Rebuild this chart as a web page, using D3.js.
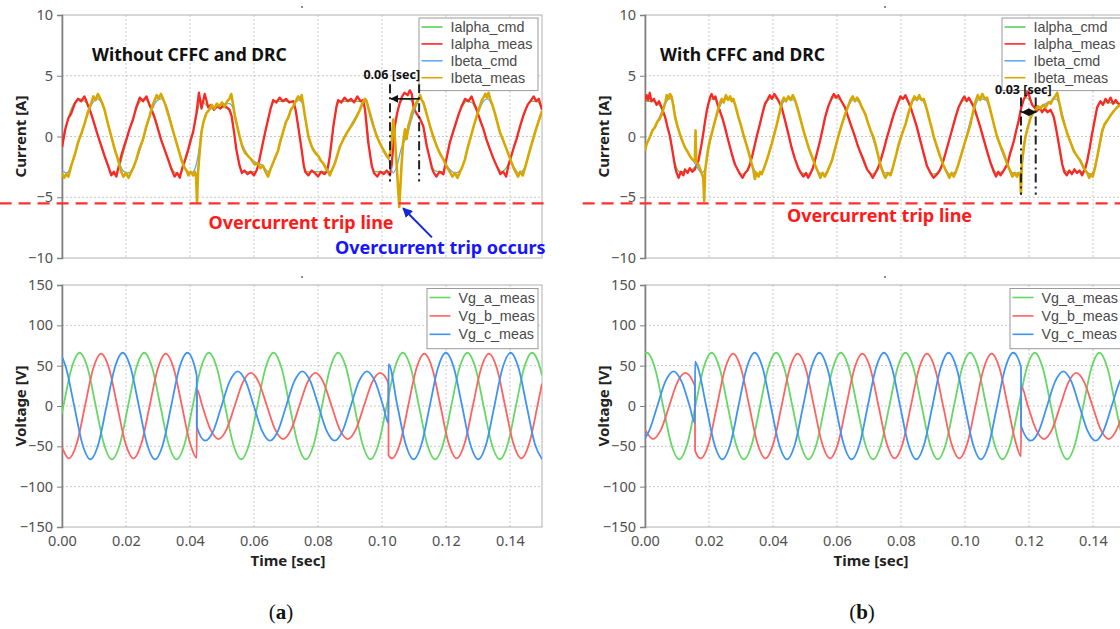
<!DOCTYPE html>
<html><head><meta charset="utf-8">
<script src="https://cdn.jsdelivr.net/npm/d3@7"></script>
<style>
body{margin:0;background:#fff;}
svg{display:block;font-family:"Noto Sans","Open Sans",sans-serif;}
</style></head><body>
<svg id="chart" width="1120" height="629"></svg>
<script>
// ---------------- data (time in ms, value in A or V) ----------------
const timeTicks = [0, 0.02, 0.04, 0.06, 0.08, 0.10, 0.12, 0.14];
const currentTicks = [-10, -5, 0, 5, 10];
const voltageTicks = [-150, -100, -50, 0, 50, 100, 150];
const currentNames = ["Ialpha_cmd", "Ialpha_meas", "Ibeta_cmd", "Ibeta_meas"];
const voltageNames = ["Vg_a_meas", "Vg_b_meas", "Vg_c_meas"];
const panelTitles = ["Without CFFC and DRC", "With CFFC and DRC"];
const panelLetters = ["a", "b"];
const tripLevel = -5.5;
const tripSpan = [-19.5, 152.5];
const spanLabels = ["0.06 [sec]", "0.03 [sec]"];
const aSpan = [102.5, 111.6];
const bSpan = [117.5, 122.1];
const tripArrowA = [[115.6, -8.3], [106.6, -5.9]];

const aIalphaCmd = [[0,-1.0],[2,1.6],[3.5,2.6],[5.5,3.1],[7.5,2.8],[9.3,1.8],[11.3,0],[13.3,-1.7],[15,-2.8],[16.5,-3.1],[18,-2.4],[20.1,-0.4],[22.2,1.5],[24,2.7],[25.5,3.1],[27.2,2.7],[29,1.6],[31,-0.2],[33,-1.8],[35,-2.9],[36.5,-3.1],[38,-2.4],[40,-0.7],[41,0.4],[42.3,2.0],[43.3,3.0],[44.3,2.8],[45.5,2.5],[52.3,2.3],[53,1.7],[54.5,-1.1],[55.5,-2.4],[56.5,-2.9],[60.5,-2.9],[61.3,-2.4],[62.8,-0.5],[64.4,1.4],[65.5,2.6],[66.5,2.9],[72.3,2.9],[73,2.2],[74.9,-1.1],[76,-2.8],[77,-2.9],[82.7,-2.9],[83.7,-1.6],[85.8,2.4],[86.8,2.9],[94,2.9],[94.7,2.2],[96.8,-2.4],[97.8,-2.9],[102.3,-2.9],[103,-2.4],[104,0.8],[105.6,2.7],[107,3.1],[109,3.0],[110.3,2.2],[112.9,0.8],[115,-1.9],[116.5,-2.8],[119,-2.9],[121.2,-0.5],[124.9,2.4],[126.5,2.9],[128,2.8],[129.6,2.1],[133.8,-1.1],[135.8,-2.4],[137.5,-2.9],[139,-2.5],[142,-0.3],[144.4,1.8],[146.6,2.9],[148.5,2.9],[150,2.2]];
const aIalphaMeas = [[0,-0.9],[1,0.6],[2,1.5],[2.9,1.9],[4,2.7],[5,3.1],[6,2.9],[7,3.3],[7.5,3.0],[8.2,2.5],[9.2,1.8],[10.3,0.85],[11.3,0],[12.3,-0.8],[13.3,-1.6],[14.4,-2.4],[15.4,-3.2],[16.2,-2.9],[17,-3.3],[17.5,-2.7],[18.5,-1.6],[19.3,-0.9],[20.1,-0.25],[21.1,0.6],[22.2,1.4],[23.2,2.4],[24.3,3.2],[25.3,2.9],[26.4,3.3],[27.2,2.7],[28,2.2],[29,1.5],[30,0.6],[31,-0.3],[32.1,-1.1],[33.2,-1.9],[34.2,-2.7],[35.2,-3.3],[36,-3.0],[36.8,-3.4],[37.8,-2.4],[38.6,-1.8],[39.4,-1.1],[40.2,-0.3],[41,0.4],[42,1.9],[42.8,3.6],[43.6,2.3],[44.6,3.5],[45.7,2.4],[46.5,2.6],[47.5,2.2],[48.5,2.5],[49.5,2.3],[50.5,2.6],[51.5,2.4],[52.3,2.2],[53,1.7],[53.8,0.3],[54.5,-1.1],[55.5,-2.4],[56.2,-3.0],[57,-2.8],[58,-3.1],[59,-2.9],[60,-3.2],[60.8,-2.8],[61.3,-2.4],[62,-1.5],[62.8,-0.5],[63.6,0.5],[64.4,1.4],[65.2,2.3],[66,3.0],[67,2.8],[68,3.2],[69,2.9],[70,3.1],[71,2.8],[72.3,2.9],[73,2.2],[73.8,0.85],[74.9,-1.1],[75.5,-2.3],[76,-2.9],[77,-3.2],[78,-2.8],[79,-3.0],[80,-3.3],[81,-2.9],[82,-3.1],[82.7,-2.9],[83.2,-2.4],[83.7,-1.6],[84.8,0.85],[85.8,2.5],[86.3,3.0],[87.3,2.8],[88.3,3.2],[89.3,2.9],[90.3,3.1],[91.3,2.8],[92.3,3.3],[93.3,2.9],[94.1,3.0],[94.7,2.2],[95.7,-0.5],[96.8,-2.4],[97.5,-3.0],[98.5,-3.3],[99.5,-2.9],[100.5,-3.1],[101.5,-2.8],[102.5,-3.2],[103,-2.4],[104,0.85],[104.8,2.0],[105.6,2.8],[106.3,3.3],[107,3.6],[108,3.4],[108.7,3.8],[109.3,3.5],[109.8,2.5],[110.3,2.1],[110.8,1.9],[111.8,1.5],[112.9,0.85],[114,-0.8],[115,-1.9],[115.6,-2.6],[116.2,-3.0],[117,-3.3],[118,-2.9],[119.2,-3.1],[119.7,-2.4],[120.4,-1.5],[121.2,-0.5],[122,0.2],[122.8,0.85],[123.8,1.7],[124.9,2.5],[126,3.1],[127,2.9],[128,3.3],[128.8,2.7],[129.6,2.2],[130.6,1.4],[131.7,0.6],[132.7,-0.3],[133.8,-1.1],[134.8,-1.8],[135.8,-2.4],[137,-3.1],[137.9,-2.9],[138.8,-3.3],[139.5,-2.4],[140.5,-1.5],[141.3,-0.8],[142,-0.25],[143.2,0.9],[144.4,1.9],[145.5,2.6],[146.6,3.0],[147.4,3.3],[148.2,2.9],[149,3.1],[150,2.2]];
const aIbetaCmd = [[0,-2.8],[1.5,-3.0],[3,-2.3],[5,-0.6],[7.1,1.1],[9.2,2.6],[11,3.1],[12.5,2.7],[15.4,0],[17.5,-1.8],[19,-2.8],[20.5,-3.0],[22,-2.7],[25.3,-0.3],[27.4,1.6],[29.5,2.9],[31,3.1],[32.5,2.6],[35.2,0],[37.3,-1.8],[39,-2.8],[40.5,-3.0],[41.5,-2.7],[42.5,-1.6],[43.5,0.2],[44.5,1.4],[46,2.2],[52.3,2.7],[53.5,2.3],[55.5,0],[59.2,-1.9],[62.8,-2.4],[64.4,-2.9],[65.6,-2.4],[67.5,-1.2],[70,1.2],[72.3,2.5],[74,3.0],[75,2.8],[77,0],[80.1,-1.6],[83,-2.7],[83.7,-2.9],[84.5,-2.6],[86.9,-0.8],[89,0.3],[93.1,2.2],[94.7,2.9],[95.7,2.4],[98.8,-0.25],[102,-1.8],[103.5,-3.0],[104.7,-2.4],[106,-1.0],[107.7,0],[109.8,1.9],[111,2.7],[112,3.1],[113,2.8],[115,0.85],[119.2,-1.9],[121.5,-2.8],[123,-3.0],[124.4,-2.8],[125.9,-1.9],[127.5,-0.2],[129.6,1.6],[131.7,2.9],[133,3.1],[134.5,2.5],[136.9,0.3],[139,-1.1],[141,-2.4],[142.8,-3.0],[144.5,-2.6],[146,-1.4],[148,0.4],[150,2.0]];
const aIbetaMeas = [[0,-3.0],[0.7,-3.4],[1.3,-3.1],[2,-3.3],[2.9,-2.4],[4,-1.5],[5,-0.5],[6,0.2],[7.1,1.1],[8.1,2.0],[9.2,2.8],[9.8,3.3],[10.5,3.0],[11.2,3.5],[11.8,3.2],[12.5,2.8],[13.3,2.2],[14.3,1.1],[15.4,0],[16.4,-1.0],[17.5,-1.9],[18.5,-2.9],[19.2,-3.3],[20,-3.0],[20.8,-3.4],[21.7,-2.9],[22.4,-2.5],[23.2,-1.9],[24.2,-1.0],[25.3,-0.25],[26.3,0.8],[27.4,1.7],[28.2,2.5],[29,3.0],[29.6,3.4],[30.2,3.1],[30.9,3.5],[31.6,3.1],[32.3,2.6],[33.1,1.9],[34.1,1.0],[35.2,0],[36.2,-0.9],[37.3,-1.9],[38.1,-2.5],[38.9,-2.8],[39.5,-3.2],[40.2,-2.9],[41,-3.2],[41.5,-2.9],[41.9,-3.3],[42.2,-5.4],[42.5,-3.0],[43,-1.3],[43.6,0.4],[44.2,1.2],[45.1,1.9],[46,2.2],[46.8,2.6],[47.6,2.3],[48.4,2.7],[49.2,2.5],[50,2.8],[50.8,2.5],[51.6,2.9],[52.3,3.1],[52.9,3.5],[53.5,2.6],[54,1.7],[54.8,0.8],[55.5,0],[56.3,-0.8],[57.1,-1.3],[58.1,-1.6],[59.2,-1.9],[60.2,-2.3],[61.3,-2.2],[62,-2.6],[62.8,-2.4],[63.6,-2.9],[64.4,-3.3],[65,-2.8],[65.6,-2.4],[66.5,-1.8],[67.5,-1.2],[68.2,-0.4],[69,0.3],[70,1.2],[70.8,1.6],[71.5,2.2],[72.3,2.5],[73,2.9],[73.8,3.3],[74.5,3.0],[74.9,3.4],[75.4,2.6],[75.9,1.7],[77,0],[78,-0.8],[78.5,-1.1],[79.3,-1.4],[80.1,-1.6],[80.9,-2.0],[81.6,-2.2],[82.4,-2.6],[83,-2.8],[83.7,-3.2],[84.3,-2.8],[85.3,-2.2],[86.1,-1.5],[86.9,-0.8],[88,-0.2],[89,0.3],[90,0.7],[91,1.1],[92,1.6],[93.1,2.2],[93.8,2.7],[94.7,3.1],[95.2,2.9],[95.7,2.4],[96.5,1.6],[97.3,0.85],[98,0.3],[98.8,-0.25],[99.6,-0.7],[100.4,-1.1],[101.2,-1.5],[102,-1.8],[102.6,-1.3],[103,-0.5],[103.5,1.4],[104,0],[104.6,-2.4],[105.4,-5.8],[106.1,-2.4],[106.6,-0.5],[107.2,0.6],[107.7,-0.2],[108.2,0.85],[108.8,1.4],[109.3,1.9],[110,2.4],[110.8,2.8],[111.4,3.1],[111.9,3.4],[112.4,3.0],[112.9,2.8],[114,1.8],[115,0.85],[116,0],[117.1,-0.8],[118.1,-1.4],[119.2,-1.9],[120.2,-2.5],[121.2,-2.9],[122,-3.3],[122.8,-3.0],[123.6,-3.4],[124.4,-2.9],[125.1,-2.5],[125.9,-1.9],[126.7,-1.0],[127.5,-0.25],[128.5,0.7],[129.6,1.7],[130.6,2.5],[131.2,3.0],[131.7,3.2],[132.3,3.5],[132.8,3.2],[133.3,3.6],[133.8,3.1],[134.5,2.6],[135.3,1.9],[136.1,1.1],[136.9,0.3],[138,-0.4],[139,-1.1],[140,-1.8],[141,-2.5],[141.7,-2.9],[142.5,-3.3],[143.2,-2.9],[144,-3.2],[145,-2.3],[146,-1.3],[147,-0.4],[148,0.5],[149,1.3],[150,2.1]];

const bIalphaCmd = [[0,2.9],[2,2.9],[4,2.7],[6.3,1.5],[7.8,0],[9.4,-2.2],[10.8,-2.9],[14,-2.8],[16.2,-2.3],[17.7,-0.6],[19.3,2.0],[20.8,3.1],[22,3.0],[24.2,1.5],[26.6,-0.9],[28.9,-2.7],[30.5,-3.1],[32,-2.8],[34.4,-0.6],[36.7,1.9],[38.5,3.0],[40.2,3.2],[42,2.8],[44.3,0.75],[46.8,-1.8],[49,-3.0],[50.8,-3.1],[52.3,-2.7],[54.7,-0.35],[57.3,2.5],[59.2,3.2],[61,3.0],[63.5,1.6],[66.3,-0.6],[69.4,-2.7],[71,-3.1],[72.8,-2.6],[75.7,0],[78.8,2.6],[80.5,3.2],[82.2,2.9],[85,0.75],[88.1,-2.4],[90.2,-3.1],[92.1,-2.8],[95,-0.35],[98,2.4],[100,3.0],[102,2.9],[104.8,0.75],[107.9,-2.1],[110,-3.0],[112.1,-2.8],[115.3,-0.35],[117.6,2.4],[119,3.2],[120.2,3.0],[121.8,2.3],[127,2.0],[128.5,0.6],[130.4,-2.3],[132,-2.9],[136.6,-2.9],[138.2,-2.0],[139.7,0.2],[141.3,2.3],[142.5,2.8],[150,2.7]];
const bIalphaMeas = [[0,2.9],[0.5,3.4],[1,3.0],[1.5,3.6],[2,2.9],[2.8,3.1],[3.6,2.6],[4.4,2.9],[5.2,2.4],[6.3,1.6],[7,0.8],[7.8,0],[8.4,-0.9],[8.9,-1.7],[9.4,-2.5],[9.9,-3.0],[10.5,-3.4],[11.2,-2.9],[12,-3.2],[12.5,-2.7],[13.3,-3.0],[14,-2.6],[14.8,-2.9],[15.6,-2.7],[16.2,-2.3],[16.7,-2.0],[17.2,-1.3],[17.7,-0.6],[18.3,0.4],[18.8,1.3],[19.3,2.1],[19.8,2.7],[20.3,3.2],[20.8,3.5],[21.4,3.1],[22,3.3],[22.7,2.6],[23.4,2.1],[24.2,1.5],[25,0.75],[25.8,-0.1],[26.6,-0.9],[27.3,-1.6],[28.1,-2.3],[28.9,-2.7],[29.7,-3.1],[30.5,-3.4],[31.3,-3.0],[32,-2.8],[32.8,-2.3],[33.6,-1.5],[34.4,-0.6],[35.1,0.2],[35.9,1.0],[36.7,1.9],[37.5,2.7],[38.2,3.0],[39,3.4],[39.7,3.1],[40.4,3.5],[41.2,3.2],[42,2.8],[42.7,2.4],[43.5,1.6],[44.3,0.75],[45,0],[45.8,-0.9],[46.8,-1.8],[47.9,-2.6],[48.7,-3.0],[49.5,-3.3],[50.3,-3.0],[51,-3.4],[51.6,-3.1],[52.3,-2.7],[53.1,-2.0],[53.9,-1.2],[54.7,-0.35],[55.5,0.6],[56.3,1.6],[57.3,2.5],[58.4,3.2],[59,3.5],[59.7,3.2],[60.4,3.4],[61.4,2.9],[62.5,2.4],[63.5,1.6],[64.6,0.75],[65.5,0.1],[66.3,-0.6],[67.3,-1.3],[68.4,-2.0],[69.4,-2.7],[70.5,-3.1],[71.2,-3.4],[72,-3.0],[72.8,-2.6],[73.6,-2.0],[74.7,-1.0],[75.7,0],[76.7,0.9],[77.7,1.8],[78.8,2.6],[79.8,3.3],[80.6,3.1],[81.4,3.4],[82.2,2.9],[83,2.4],[84,1.6],[85,0.75],[86,-0.3],[87.1,-1.4],[88.1,-2.4],[89.2,-3.0],[90.2,-3.4],[91.3,-3.1],[92.1,-2.8],[92.9,-2.3],[94,-1.3],[95,-0.35],[96,0.6],[97,1.55],[98,2.4],[99.1,3.0],[99.8,3.3],[100.5,2.9],[101.2,3.2],[102,2.8],[102.8,2.4],[103.8,1.6],[104.8,0.75],[105.8,-0.2],[106.9,-1.2],[107.9,-2.1],[109,-2.9],[109.7,-3.3],[110.4,-2.9],[111.1,-3.2],[112.1,-2.8],[113.2,-2.3],[114.2,-1.3],[115.3,-0.35],[116,0.5],[116.8,1.3],[117.6,2.4],[118.4,3.1],[119.2,3.4],[119.7,3.9],[120.2,3.2],[121,2.6],[121.8,2.4],[122.5,2.1],[123.3,2.4],[124.1,2.0],[124.9,2.3],[125.8,2.0],[126.7,2.2],[127.3,1.9],[127.8,1.55],[128.5,0.6],[129.3,-0.6],[129.9,-1.5],[130.4,-2.3],[131,-2.9],[131.8,-3.2],[132.6,-2.8],[133.4,-3.1],[134.2,-2.7],[135,-3.0],[135.8,-2.8],[136.6,-3.2],[137.1,-2.9],[137.6,-2.6],[138.2,-2.0],[139,-0.9],[139.7,0.2],[140.5,1.3],[141.3,2.4],[142.3,2.9],[143.1,2.6],[143.9,3.1],[144.7,2.8],[145.5,3.2],[146.3,2.7],[147.1,3.0],[147.9,2.7],[148.6,2.6],[149.3,2.8],[150,2.5]];
const bIbetaCmd = [[0,-1.0],[1.6,0],[3.8,1.2],[5.9,2.4],[7.5,3.1],[8.5,3.1],[9.4,1.8],[10.9,0.2],[12.5,-0.9],[14.8,-1.9],[16,-2.4],[17.7,-3.0],[18.8,-2.7],[19.8,-1.2],[20.8,0.1],[22.4,1.7],[24,2.8],[25.8,3.1],[27.6,2.9],[29.2,1.6],[31.5,-0.5],[33.9,-2.6],[35.3,-3.1],[36.8,-2.8],[38.8,-1.3],[41.2,1.0],[43.4,2.9],[45,3.1],[46.9,2.9],[49.5,0.5],[52.1,-1.6],[54.5,-3.0],[56,-3.1],[57.6,-2.5],[60.4,0],[63.5,2.5],[65.5,3.1],[67.6,2.5],[70.5,0.5],[72.8,-1.5],[75,-3.0],[76.7,-3.0],[78.5,-1.5],[81.4,1.0],[84,3.0],[86,3.1],[88,2.3],[90.2,0],[93.3,-2.4],[95.3,-3.1],[97,-2.9],[99.4,-1.0],[102.5,2.0],[104.5,3.1],[106.5,3.0],[108.5,1.55],[110,0],[113.1,-2.2],[115,-3.0],[116.8,-3.0],[117.5,-2.9],[118.9,0],[120.5,1.55],[122,2.1],[126,2.8],[128.5,3.1],[129.6,2.6],[132,0.2],[135,-1.6],[138,-2.9],[139.5,-3.1],[141.3,-1.8],[143,0.4],[145.4,1.7],[148.6,2.6],[150,2.8]];
const bIbetaMeas = [[0,-1.2],[0.5,-0.6],[1,-0.35],[1.6,0.0],[2.3,0.5],[3.1,0.75],[3.8,1.2],[4.5,1.4],[5.2,1.8],[5.9,2.4],[6.4,2.9],[6.8,3.4],[7.3,3.1],[7.8,3.5],[8.3,3.3],[8.8,2.6],[9.4,1.6],[10.1,0.9],[10.9,0.2],[11.7,-0.4],[12.5,-0.9],[13.2,-1.2],[14,-1.6],[14.8,-1.9],[15.6,-2.0],[15.8,0.5],[16,-2.1],[16.7,-2.3],[17.4,-2.8],[18.2,-3.4],[18.5,-5.3],[18.8,-2.8],[19.3,-1.8],[19.8,-0.9],[20.3,-0.3],[20.8,0.2],[21.6,1.0],[22.4,1.8],[23.2,2.6],[24,3.1],[24.6,2.8],[25.3,3.4],[26,3.0],[26.6,3.3],[27.1,2.9],[27.6,3.1],[28.4,2.4],[29.2,1.6],[30,0.9],[30.7,0.2],[31.5,-0.5],[32.3,-1.2],[33.1,-2.0],[33.9,-2.8],[34.3,-3.5],[34.9,-3.0],[35.5,-3.3],[36,-2.9],[36.5,-3.1],[37.2,-2.6],[38,-2.0],[38.8,-1.3],[39.6,-0.6],[40.4,0.2],[41.2,1.0],[42,1.9],[42.7,2.8],[43.4,3.2],[44.1,2.9],[44.8,3.3],[45.5,3.0],[46.2,3.4],[46.9,3.0],[47.9,2.1],[48.7,1.3],[49.5,0.5],[50.3,-0.2],[51.1,-0.9],[52.1,-1.6],[53.1,-2.3],[54.2,-3.0],[54.8,-3.4],[55.5,-3.0],[56.2,-3.3],[56.8,-3.0],[57.6,-2.5],[58.4,-2.0],[59.4,-1.0],[60.4,0],[61.4,0.9],[62.5,1.8],[63.5,2.5],[64.2,3.0],[64.9,3.3],[65.6,2.9],[66.3,3.2],[67,2.9],[67.6,2.5],[68.9,1.8],[69.7,1.1],[70.5,0.5],[71.3,0],[72,-0.6],[72.8,-1.5],[73.6,-2.4],[74.4,-3.0],[75.1,-3.4],[75.9,-3.0],[76.7,-3.2],[77.2,-2.8],[77.7,-2.3],[78.5,-1.5],[79.3,-0.6],[80.3,0.2],[81.4,1.0],[82.4,2.0],[83.5,2.9],[84.2,3.3],[85,3.0],[85.7,3.4],[86.4,3.0],[87.1,3.1],[88,2.3],[88.7,1.55],[89.5,0.8],[90.2,0],[91.2,-0.8],[92.3,-1.7],[93.3,-2.4],[94.4,-3.0],[95.1,-3.4],[95.8,-3.0],[96.5,-3.3],[97,-3.0],[97.8,-2.4],[98.6,-1.7],[99.4,-1.0],[100.1,-0.35],[100.9,0.3],[101.7,1.0],[102.5,2.0],[103.3,2.9],[104,3.4],[104.7,3.0],[105.4,3.5],[106.2,3.1],[106.9,3.2],[107.7,2.4],[108.5,1.55],[109.2,0.8],[110,0],[111,-0.7],[112.1,-1.4],[113.1,-2.2],[114.2,-2.9],[114.8,-3.3],[115.5,-3.0],[116.2,-3.3],[116.8,-3.0],[117.2,-3.2],[117.5,-4.7],[117.8,-2.0],[118.3,-1.0],[118.9,0],[119.7,0.8],[120.5,1.55],[121.3,2.0],[122,2.1],[122.8,2.5],[123.6,2.3],[124.4,2.6],[125.2,2.4],[126,2.8],[126.8,2.7],[127.5,3.1],[128.2,3.3],[128.8,3.6],[129.6,2.6],[130.4,1.55],[131.2,0.9],[132,0.2],[133,-0.5],[134,-1.2],[135,-1.6],[136.1,-2.0],[137.1,-2.6],[138.2,-3.0],[138.8,-3.4],[139.4,-3.1],[139.9,-3.3],[140.6,-2.6],[141.3,-1.7],[142.1,-0.6],[142.9,0.5],[143.6,1.0],[144.4,1.3],[145.4,1.7],[146.5,2.1],[147.5,2.4],[148.6,2.6],[150,2.9]];

const aVga = [[0,-9],[0.45,0],[2.98,46.7],[5.5,66],[8.03,46.7],[10.55,0],[13.08,-46.7],[15.6,-66],[18.13,-46.7],[20.65,0],[23.18,46.7],[25.7,66],[28.23,46.7],[30.75,0],[33.28,-46.7],[35.8,-66],[38.33,-46.7],[40.85,0],[43.38,46.7],[45.9,66],[48.43,46.7],[50.95,0],[53.48,-46.7],[56,-66],[58.53,-46.7],[61.05,0],[63.58,46.7],[66.1,66],[68.63,46.7],[71.15,0],[73.68,-46.7],[76.2,-66],[78.73,-46.7],[81.25,0],[83.78,46.7],[86.3,66],[88.83,46.7],[91.35,0],[93.88,-46.7],[96.4,-66],[98.93,-46.7],[101.45,0],[103.98,46.7],[106.5,66],[109.03,46.7],[111.55,0],[114.08,-46.7],[116.6,-66],[119.13,-46.7],[121.65,0],[124.18,46.7],[126.7,66],[129.23,46.7],[131.75,0],[134.28,-46.7],[136.8,-66],[139.33,-46.7],[141.85,0],[144.38,46.7],[146.9,66],[149.43,46.7],[150,37.8]];
const aVgb = [[0,-51],[2.13,-65],[4.66,-46],[7.18,0],[9.71,46],[12.23,65],[14.76,46],[17.28,0],[19.81,-46],[22.33,-65],[24.86,-46],[27.38,0],[29.91,46],[32.43,65],[34.96,46],[37.48,0],[40.01,-46],[42.1,-64.4],[42.15,20.7],[43.85,0],[46.38,-29],[48.9,-41],[51.43,-29],[53.95,0],[56.48,29],[59,41],[61.53,29],[64.05,0],[66.58,-29],[69.1,-41],[71.63,-29],[74.15,0],[76.68,29],[79.2,41],[81.73,29],[84.25,0],[86.78,-29],[89.3,-41],[91.83,-29],[94.35,0],[96.88,29],[99.4,41],[102,28.3],[102.05,-61.4],[103.13,-65],[105.66,-46],[108.18,0],[110.71,46],[113.23,65],[115.76,46],[118.28,0],[120.81,-46],[123.33,-65],[125.86,-46],[128.38,0],[130.91,46],[133.43,65],[135.96,46],[138.48,0],[141.01,-46],[143.53,-65],[146.06,-46],[148.58,0],[150,27.8]];
const aVgc = [[0,61.2],[1.3,46.7],[3.82,0],[6.35,-46.7],[8.87,-66],[11.4,-46.7],[13.92,0],[16.45,46.7],[18.97,66],[21.5,46.7],[24.02,0],[26.55,-46.7],[29.07,-66],[31.6,-46.7],[34.12,0],[36.65,46.7],[39.17,66],[42.1,38],[42.15,-26],[44.8,-43],[47.33,-30.4],[49.85,0],[52.38,30.4],[54.9,43],[57.43,30.4],[59.95,0],[62.48,-30.4],[65,-43],[67.53,-30.4],[70.05,0],[72.58,30.4],[75.1,43],[77.63,30.4],[80.15,0],[82.68,-30.4],[85.2,-43],[87.73,-30.4],[90.25,0],[92.78,30.4],[95.3,43],[97.83,30.4],[100.35,0],[102,-21],[102.05,52],[104.82,0],[107.35,-46.7],[109.87,-66],[112.4,-46.7],[114.92,0],[117.45,46.7],[119.97,66],[122.5,46.7],[125.02,0],[127.55,-46.7],[130.07,-66],[132.6,-46.7],[135.12,0],[137.65,46.7],[140.17,66],[142.7,46.7],[145.22,0],[147.75,-46.7],[150,-65.8]];

const bVga = [[0,65.7],[0.6,66],[3.13,46.7],[5.65,0],[8.18,-46.7],[10.7,-66],[13.23,-46.7],[15.75,0],[18.28,46.7],[20.8,66],[23.33,46.7],[25.85,0],[28.38,-46.7],[30.9,-66],[33.43,-46.7],[35.95,0],[38.48,46.7],[41,66],[43.53,46.7],[46.05,0],[48.58,-46.7],[51.1,-66],[53.63,-46.7],[56.15,0],[58.68,46.7],[61.2,66],[63.73,46.7],[66.25,0],[68.78,-46.7],[71.3,-66],[73.83,-46.7],[76.35,0],[78.88,46.7],[81.4,66],[83.93,46.7],[86.45,0],[88.98,-46.7],[91.5,-66],[94.03,-46.7],[96.55,0],[99.08,46.7],[101.6,66],[104.13,46.7],[106.65,0],[109.18,-46.7],[111.7,-66],[114.23,-46.7],[116.75,0],[119.28,46.7],[121.8,66],[124.33,46.7],[126.85,0],[129.38,-46.7],[131.9,-66],[134.43,-46.7],[136.95,0],[139.48,46.7],[142,66],[144.53,46.7],[147.05,0],[149.58,-46.7],[150,-52.4]];
const bVgb = [[0,-29.2],[2.5,-41],[5.03,-29],[7.55,0],[10.08,29],[12.6,41],[15.13,29],[15.6,24.4],[15.65,-55.3],[17.43,-65],[19.96,-46],[22.48,0],[25,46],[27.53,65],[30.06,46],[32.58,0],[35.1,-46],[37.63,-65],[40.16,-46],[42.68,0],[45.2,46],[47.73,65],[50.26,46],[52.78,0],[55.3,-46],[57.83,-65],[60.36,-46],[62.88,0],[65.4,46],[67.93,65],[70.46,46],[72.98,0],[75.5,-46],[78.03,-65],[80.56,-46],[83.08,0],[85.6,46],[88.13,65],[90.66,46],[93.18,0],[95.7,-46],[98.23,-65],[100.76,-46],[103.28,0],[105.8,46],[108.33,65],[110.86,46],[113.38,0],[115.9,-46],[117.5,-62.3],[117.55,24.9],[119.65,0],[122.18,-29],[124.7,-41],[127.23,-29],[129.75,0],[132.28,29],[134.8,41],[137.33,29],[139.85,0],[142.38,-29],[144.9,-41],[147.43,-29],[150,0.6]];
const bVgc = [[0,-40],[1.33,-30.4],[3.85,0],[6.38,30.4],[8.9,43],[11.43,30.4],[13.95,0],[15.6,-21.1],[15.65,55],[16.6,46.7],[19.12,0],[21.65,-46.7],[24.17,-66],[26.7,-46.7],[29.22,0],[31.75,46.7],[34.27,66],[36.8,46.7],[39.32,0],[41.85,-46.7],[44.37,-66],[46.9,-46.7],[49.42,0],[51.95,46.7],[54.47,66],[57,46.7],[59.52,0],[62.05,-46.7],[64.57,-66],[67.1,-46.7],[69.62,0],[72.15,46.7],[74.67,66],[77.2,46.7],[79.72,0],[82.25,-46.7],[84.77,-66],[87.3,-46.7],[89.82,0],[92.35,46.7],[94.87,66],[97.4,46.7],[99.92,0],[102.45,-46.7],[104.97,-66],[107.5,-46.7],[110.02,0],[112.55,46.7],[115.07,66],[117.5,48],[117.55,-25],[120.6,-43],[123.13,-30.4],[125.65,0],[128.18,30.4],[130.7,43],[133.23,30.4],[135.75,0],[138.28,-30.4],[140.8,-43],[143.33,-30.4],[145.85,0],[148.38,30.4],[150,41.3]];

// ---------------- layout & styles ----------------
const svg = d3.select("#chart");
const CUR = [15, 258], VOL = [285, 527];
const PANELS = [
  {x0: 62, x1: 542, cur: [aIalphaCmd, aIalphaMeas, aIbetaCmd, aIbetaMeas], vol: [aVga, aVgb, aVgc], span: aSpan},
  {x0: 645, x1: 1125, cur: [bIalphaCmd, bIalphaMeas, bIbetaCmd, bIbetaMeas], vol: [bVga, bVgb, bVgc], span: bSpan}
];
const curColors = ["#5ccf5c", "#ff2626", "#62aaf0", "#d8a800"];
const curWidths = [1.3, 2.3, 1.3, 2.6];
const curCurves = [d3.curveMonotoneX, d3.curveLinear, d3.curveMonotoneX, d3.curveLinear];
const volColors = ["#66d866", "#ff6262", "#3f93f5"];
const gridCol = "#c9c9c9", frameCol = "#b0b0b0", tickTxt = "#505050";
const legendFont = "Liberation Sans, Arial, sans-serif";

const defs = svg.append("defs");
function arrowMarker(id, color, size) {
  defs.append("marker").attr("id", id).attr("viewBox", "0 0 10 10").attr("refX", 9).attr("refY", 5)
    .attr("markerWidth", size).attr("markerHeight", size).attr("orient", "auto-start-reverse")
    .append("path").attr("d", "M0,0 L10,5 L0,10 z").attr("fill", color);
}
arrowMarker("arrK", "#111", 5);
arrowMarker("arrB", "#1428d8", 5);

let clipN = 0;
function plot(p, yr, domain, ticks, title, showX) {
  const g = svg.append("g");
  const x = d3.scaleLinear().domain([0, 0.15]).range([p.x0, p.x1]);
  const y = d3.scaleLinear().domain(domain).range([yr[1], yr[0]]);
  g.append("g").selectAll("line").data(timeTicks.filter(t => t > 0)).join("line")
    .attr("x1", d => x(d)).attr("x2", d => x(d)).attr("y1", yr[0]).attr("y2", yr[1])
    .attr("stroke", gridCol).attr("stroke-dasharray", "2,2");
  g.append("g").selectAll("line").data(ticks.filter(v => v > domain[0] && v < domain[1])).join("line")
    .attr("x1", p.x0).attr("x2", p.x1).attr("y1", d => y(d)).attr("y2", d => y(d))
    .attr("stroke", gridCol).attr("stroke-dasharray", "2,2");
  g.append("rect").attr("x", p.x0).attr("y", yr[0]).attr("width", p.x1 - p.x0).attr("height", yr[1] - yr[0])
    .attr("fill", "none").attr("stroke", frameCol);
  const ay = g.append("g").attr("transform", `translate(${p.x0},0)`)
    .call(d3.axisLeft(y).tickValues(ticks).tickSize(5).tickPadding(4).tickFormat(d3.format("d")));
  ay.select(".domain").attr("stroke", "#808080").attr("stroke-width", 1.6);
  ay.selectAll(".tick line").attr("stroke", "#808080");
  ay.selectAll("text").attr("fill", tickTxt).attr("font-size", 14.5).attr("font-family", "Noto Sans, sans-serif");
  if (showX) {
    const ax = g.append("g").attr("transform", `translate(0,${yr[1]})`)
      .call(d3.axisBottom(x).tickValues(timeTicks).tickSize(0).tickPadding(9).tickFormat(d3.format(".2f")));
    ax.select(".domain").remove();
    ax.selectAll("text").attr("fill", tickTxt).attr("font-size", 14.5).attr("font-family", "Noto Sans, sans-serif");
    g.append("text").attr("x", (p.x0 + p.x1) / 2 - 14).attr("y", 566).attr("text-anchor", "middle")
      .attr("font-weight", "bold").attr("font-size", 15).attr("fill", "#222").text("Time [sec]");
  }
  g.append("text").attr("transform", `translate(${p.x0 - 36},${(yr[0] + yr[1]) / 2}) rotate(-90)`)
    .attr("text-anchor", "middle").attr("font-weight", "bold").attr("font-size", 15).attr("fill", "#222").text(title);
  g.append("circle").attr("cx", (p.x0 + p.x1) / 2).attr("cy", yr[0] - 8).attr("r", 0.9).attr("fill", "#555");
  const id = "clip" + (clipN++);
  defs.append("clipPath").attr("id", id).append("rect")
    .attr("x", p.x0).attr("y", yr[0]).attr("width", p.x1 - p.x0).attr("height", yr[1] - yr[0]);
  const lines = g.append("g").attr("clip-path", `url(#${id})`);
  return {g, x, y, lines};
}

function legend(g, right, top, names, colors, w, rowH, fs) {
  const lg = g.append("g").attr("transform", `translate(${right - w},${top})`);
  lg.append("rect").attr("width", w).attr("height", names.length * rowH + 5)
    .attr("fill", "#fff").attr("stroke", "#9a9a9a");
  names.forEach((n, i) => {
    const cy = 9 + i * rowH;
    lg.append("line").attr("x1", 2.5).attr("x2", 23.5).attr("y1", cy).attr("y2", cy)
      .attr("stroke", colors[i]).attr("stroke-width", 1.6);
    lg.append("text").attr("x", 31.5).attr("y", cy).attr("dy", "0.35em").attr("font-size", fs)
      .attr("font-family", legendFont).attr("fill", "#4a4a4a").text(n);
  });
}

PANELS.forEach((p, k) => {
  const c = plot(p, CUR, [-10, 10], currentTicks, "Current [A]", false);
  p.cur.forEach((s, i) => {
    c.lines.append("path").datum(s).attr("fill", "none").attr("stroke", curColors[i])
      .attr("stroke-width", curWidths[i]).attr("stroke-linejoin", "round")
      .attr("d", d3.line().x(d => c.x(d[0] / 1000)).y(d => c.y(d[1])).curve(curCurves[i]));
  });
  legend(c.g, p.x1 - 4, 18, currentNames, curColors, 119, 16.9, 14.3);
  c.g.append("text").attr("x", k === 0 ? 92 : 660).attr("y", 61).attr("font-weight", "bold")
    .attr("font-size", 17.5).attr("fill", "#111").text(panelTitles[k]);
  c.g.append("line").attr("x1", c.x(tripSpan[0] / 1000)).attr("x2", c.x(tripSpan[1] / 1000))
    .attr("y1", c.y(tripLevel)).attr("y2", c.y(tripLevel))
    .attr("stroke", "#ff3030").attr("stroke-width", 2.2).attr("stroke-dasharray", "12,7");
  c.g.append("text").attr("x", c.x(k === 0 ? 0.0747 : 0.0733)).attr("y", c.y(k === 0 ? -7.6 : -7.0))
    .attr("text-anchor", "middle").attr("font-weight", "bold").attr("font-size", 18)
    .attr("fill", "#ff1a1a").text("Overcurrent trip line");
  const sp = p.span;
  const top = k === 0 ? 4.3 : 3.2, bot = k === 0 ? -3.7 : -4.8, ay = k === 0 ? 3.1 : 2.0;
  sp.forEach(t => c.g.append("line").attr("x1", c.x(t / 1000)).attr("x2", c.x(t / 1000))
    .attr("y1", c.y(top)).attr("y2", c.y(bot)).attr("stroke", "#222").attr("stroke-width", 2)
    .attr("stroke-dasharray", "9,4,2,4"));
  const ar = c.g.append("line").attr("x1", c.x(sp[1] / 1000)).attr("x2", c.x(sp[0] / 1000) + 1)
    .attr("y1", c.y(ay)).attr("y2", c.y(ay)).attr("stroke", "#111").attr("stroke-width", 1.6)
    .attr("marker-end", "url(#arrK)");
  if (k === 1) ar.attr("marker-start", "url(#arrK)");
  c.g.append("text").attr("x", c.x(sp[1] / 1000) + (k === 0 ? 1 : 16)).attr("y", c.y(k === 0 ? 4.7 : 3.5))
    .attr("text-anchor", "end").attr("font-weight", "bold").attr("font-size", 12.5).attr("fill", "#111")
    .text(spanLabels[k]);
  if (k === 0) {
    c.g.append("line").attr("x1", c.x(tripArrowA[0][0] / 1000)).attr("y1", c.y(tripArrowA[0][1]))
      .attr("x2", c.x(tripArrowA[1][0] / 1000)).attr("y2", c.y(tripArrowA[1][1]))
      .attr("stroke", "#1428d8").attr("stroke-width", 2).attr("marker-end", "url(#arrB)");
    c.g.append("text").attr("x", c.x(0.0853)).attr("y", c.y(-9.7)).attr("font-weight", "bold")
      .attr("font-size", 18).attr("fill", "#1414ff").text("Overcurrent trip occurs");
  }
  const v = plot(p, VOL, [-150, 150], voltageTicks, "Voltage [V]", true);
  p.vol.forEach((s, i) => {
    v.lines.append("path").datum(s).attr("fill", "none").attr("stroke", volColors[i])
      .attr("stroke-width", 1.8).attr("stroke-linejoin", "round")
      .attr("d", d3.line().x(d => v.x(d[0] / 1000)).y(d => v.y(d[1])).curve(d3.curveMonotoneX));
  });
  legend(v.g, p.x1 - 4, 288.5, voltageNames, volColors, 111, 18.4, 14.3);
  const lx = k === 0 ? 281 : 862;
  const lt = svg.append("text").attr("x", lx).attr("y", 619).attr("text-anchor", "middle")
    .attr("font-family", "Liberation Serif, Times New Roman, serif").attr("font-size", 21).attr("fill", "#111");
  lt.append("tspan").text("(");
  lt.append("tspan").attr("font-weight", "bold").text(panelLetters[k]);
  lt.append("tspan").text(")");
});
</script>
</body></html>
